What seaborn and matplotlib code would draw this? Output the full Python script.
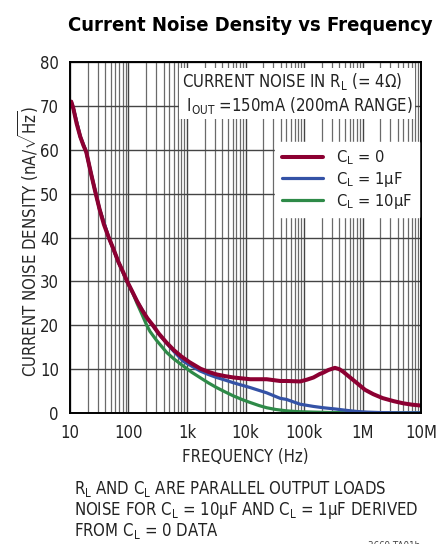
import numpy as np
import pandas as pd
import matplotlib
matplotlib.use("Agg")
import matplotlib.pyplot as plt
from matplotlib import font_manager as fm
from matplotlib.ticker import LogLocator, FixedLocator, NullFormatter
import seaborn as sns

# values
freq_cl0 = [10.5, 11.4, 13, 15, 17, 19, 20.5, 23, 27, 32, 38, 46, 55, 67, 80, 95, 115, 140, 170,
            210, 265, 330, 450, 600, 800, 1100, 1700, 2300, 3200, 4500, 6200, 12000, 23000,
            39000, 50000, 86000, 112000, 145000, 186000, 213000, 260000, 337000, 400000,
            467000, 600000, 790000, 1.1e6, 1.52e6, 2.2e6, 3.4e6, 5e6, 7e6, 9.9e6]
noise_cl0 = [71, 69.5, 66, 63, 61, 59.5, 57.5, 54.5, 50.5, 46.5, 43, 40, 37.5, 34.5, 32.3, 30, 27.8,
             25.5, 23.5, 21.6, 19.9, 18.1, 16.0, 14.3, 12.9, 11.6, 10.1, 9.4, 8.8, 8.4, 8.1, 7.7, 7.7,
             7.3, 7.3, 7.2, 7.6, 8.1, 8.9, 9.2, 9.8, 10.3, 10.0,
             9.4, 8.2, 6.9, 5.3, 4.3, 3.4, 2.7, 2.2, 1.9, 1.7]

freq_cl1u = [10.5, 11.4, 15, 19, 23, 32, 46, 67, 95, 140, 210, 330, 450, 600, 865, 1200, 1660,
             2300, 3200, 4500, 6200, 12000, 23000, 39000, 50000, 86000, 145000, 213000, 350000,
             535000, 800000, 1.2e6, 2e6, 4e6, 9.9e6]
noise_cl1u = [71, 69.5, 63, 59.5, 54.5, 46.5, 40, 34.5, 30, 25.5, 21.6, 18.0, 15.9, 14.0, 11.8, 10.7,
              9.6, 8.8, 8.1, 7.5, 6.9, 5.8, 4.6, 3.35, 3.1, 2.0, 1.5, 1.2, 0.9, 0.6, 0.35, 0.2, 0.1,
              0.05, 0.05]

freq_cl10u = [10.5, 11.4, 15, 19, 23, 32, 46, 67, 95, 120, 140, 170, 205, 233, 300, 450, 600, 865,
              1200, 1660, 2300, 3200, 4500, 6200, 9000, 12000, 17000, 23000, 33000, 50000, 80000,
              145000, 300000, 1e6, 9.9e6]
noise_cl10u = [71, 69.5, 63, 59.5, 54.5, 46.5, 40, 34.5, 29.8, 27.2, 25.0, 22.5, 20.0, 18.6, 16.6,
               13.8, 12.3, 10.7, 9.3, 8.1, 6.9, 5.8, 4.8, 3.9, 3.0, 2.4, 1.7, 1.2, 0.8, 0.5, 0.3,
               0.2, 0.1, 0.05, 0.05]

series_labels = ["C$_\\mathrm{L}$ = 0", "C$_\\mathrm{L}$ = 1µF", "C$_\\mathrm{L}$ = 10µF"]
series_colors = ["#8c0032", "#3452a6", "#2e8a48"]

x_ticks = [10, 100, 1e3, 1e4, 1e5, 1e6, 1e7]
x_ticklabels = ["10", "100", "1k", "10k", "100k", "1M", "10M"]
y_ticks = [0, 10, 20, 30, 40, 50, 60, 70, 80]

sns.set_style("white")

# pick a narrow face if there is one
entries = fm.fontManager.ttflist
names = {f.name for f in entries}
if "Liberation Sans Narrow" in names:
    base, stretch = "Liberation Sans Narrow", "normal"
elif any(f.name == "DejaVu Sans" and f.stretch == "condensed" for f in entries):
    base, stretch = "DejaVu Sans", "condensed"
else:
    base, stretch = "Liberation Sans", "normal"

plt.rcParams["font.family"] = [base, "DejaVu Sans"]
plt.rcParams["font.stretch"] = stretch
plt.rcParams["mathtext.fontset"] = "custom"
mt = base if stretch == "normal" else base + ":stretch=condensed"
plt.rcParams["mathtext.rm"] = mt
plt.rcParams["mathtext.it"] = mt
plt.rcParams["mathtext.sf"] = mt
plt.rcParams["text.color"] = "#222222"

FS = 12

fig = plt.figure(figsize=(4.4, 5.44), dpi=100)
ax = fig.add_axes([0.159, 0.2408, 0.798, 0.645])

df0 = pd.DataFrame({"f": freq_cl0, "v": noise_cl0})
df1 = pd.DataFrame({"f": freq_cl1u, "v": noise_cl1u})
df2 = pd.DataFrame({"f": freq_cl10u, "v": noise_cl10u})

sns.lineplot(data=df2, x="f", y="v", ax=ax, color=series_colors[2], lw=2.3, zorder=3, label=series_labels[2])
sns.lineplot(data=df1, x="f", y="v", ax=ax, color=series_colors[1], lw=2.3, zorder=4, label=series_labels[1])
sns.lineplot(data=df0, x="f", y="v", ax=ax, color=series_colors[0], lw=2.9, zorder=5, label=series_labels[0])

ax.set_xscale("log")
ax.set_xlim(10, 1e7)
ax.set_ylim(0, 80)
ax.xaxis.set_major_locator(FixedLocator(x_ticks))
ax.set_xticklabels(x_ticklabels)
ax.xaxis.set_minor_locator(LogLocator(base=10, subs=np.arange(2, 10), numticks=20))
ax.xaxis.set_minor_formatter(NullFormatter())
ax.set_yticks(y_ticks)
ax.tick_params(axis="both", which="both", length=0, labelsize=FS, colors="#222222")
ax.tick_params(axis="x", pad=8)
ax.tick_params(axis="y", pad=8)

ax.grid(which="major", axis="both", color="#444444", lw=1.0)
ax.grid(which="minor", axis="x", color="#6a6a6a", lw=0.9)
for s in ax.spines.values():
    s.set_color("black")
    s.set_linewidth(1.4)
    s.set_zorder(6)

ax.set_xlabel("FREQUENCY (Hz)", fontsize=FS)
ax.xaxis.label.set_va("center")
ax.xaxis.set_label_coords(0.5, -0.125)
ax.set_ylabel("CURRENT NOISE DENSITY (nA/$\\sqrt{\\mathrm{Hz}}$)", fontsize=FS)
ax.yaxis.label.set_va("center")
ax.yaxis.set_label_coords(-0.121, 0.49)

# legend, C_L = 0 first
h, l = ax.get_legend_handles_labels()
order = [2, 1, 0]
leg = ax.legend([h[i] for i in order], [l[i] for i in order], loc="upper right",
                bbox_to_anchor=(0.993, 0.773), frameon=True, fancybox=False, fontsize=11.8,
                handlelength=2.5, handletextpad=0.8, labelspacing=0.18, borderpad=0.4,
                borderaxespad=0)
leg.get_frame().set_edgecolor("white")
leg.get_frame().set_facecolor("white")
leg.get_frame().set_alpha(1)
leg.set_zorder(7)

ax.text(0.318, 0.975, "CURRENT NOISE IN R$_\\mathrm{L}$ (= 4Ω)\n I$_\\mathrm{OUT}$ =150mA (200mA RANGE)",
        transform=ax.transAxes, ha="left", va="top", fontsize=FS, linespacing=1.2, zorder=7,
        bbox=dict(facecolor="white", edgecolor="none", pad=2))

fig.text(0.569, 0.954, "Current Noise Density vs Frequency", ha="center", va="center",
         fontsize=14.5, fontweight="bold", color="black")

notes = ["R$_\\mathrm{L}$ AND C$_\\mathrm{L}$ ARE PARALLEL OUTPUT LOADS",
         "NOISE FOR C$_\\mathrm{L}$ = 10µF AND C$_\\mathrm{L}$ = 1µF DERIVED",
         "FROM C$_\\mathrm{L}$ = 0 DATA"]
for i, line in enumerate(notes):
    fig.text(0.168, 0.101 - i * 0.039, line, ha="left", va="center", fontsize=FS)
fig.text(0.955, -0.004, "3669 TA01b", ha="right", va="center", fontsize=7, color="#444444")

fig.savefig("out.png", dpi=100)
